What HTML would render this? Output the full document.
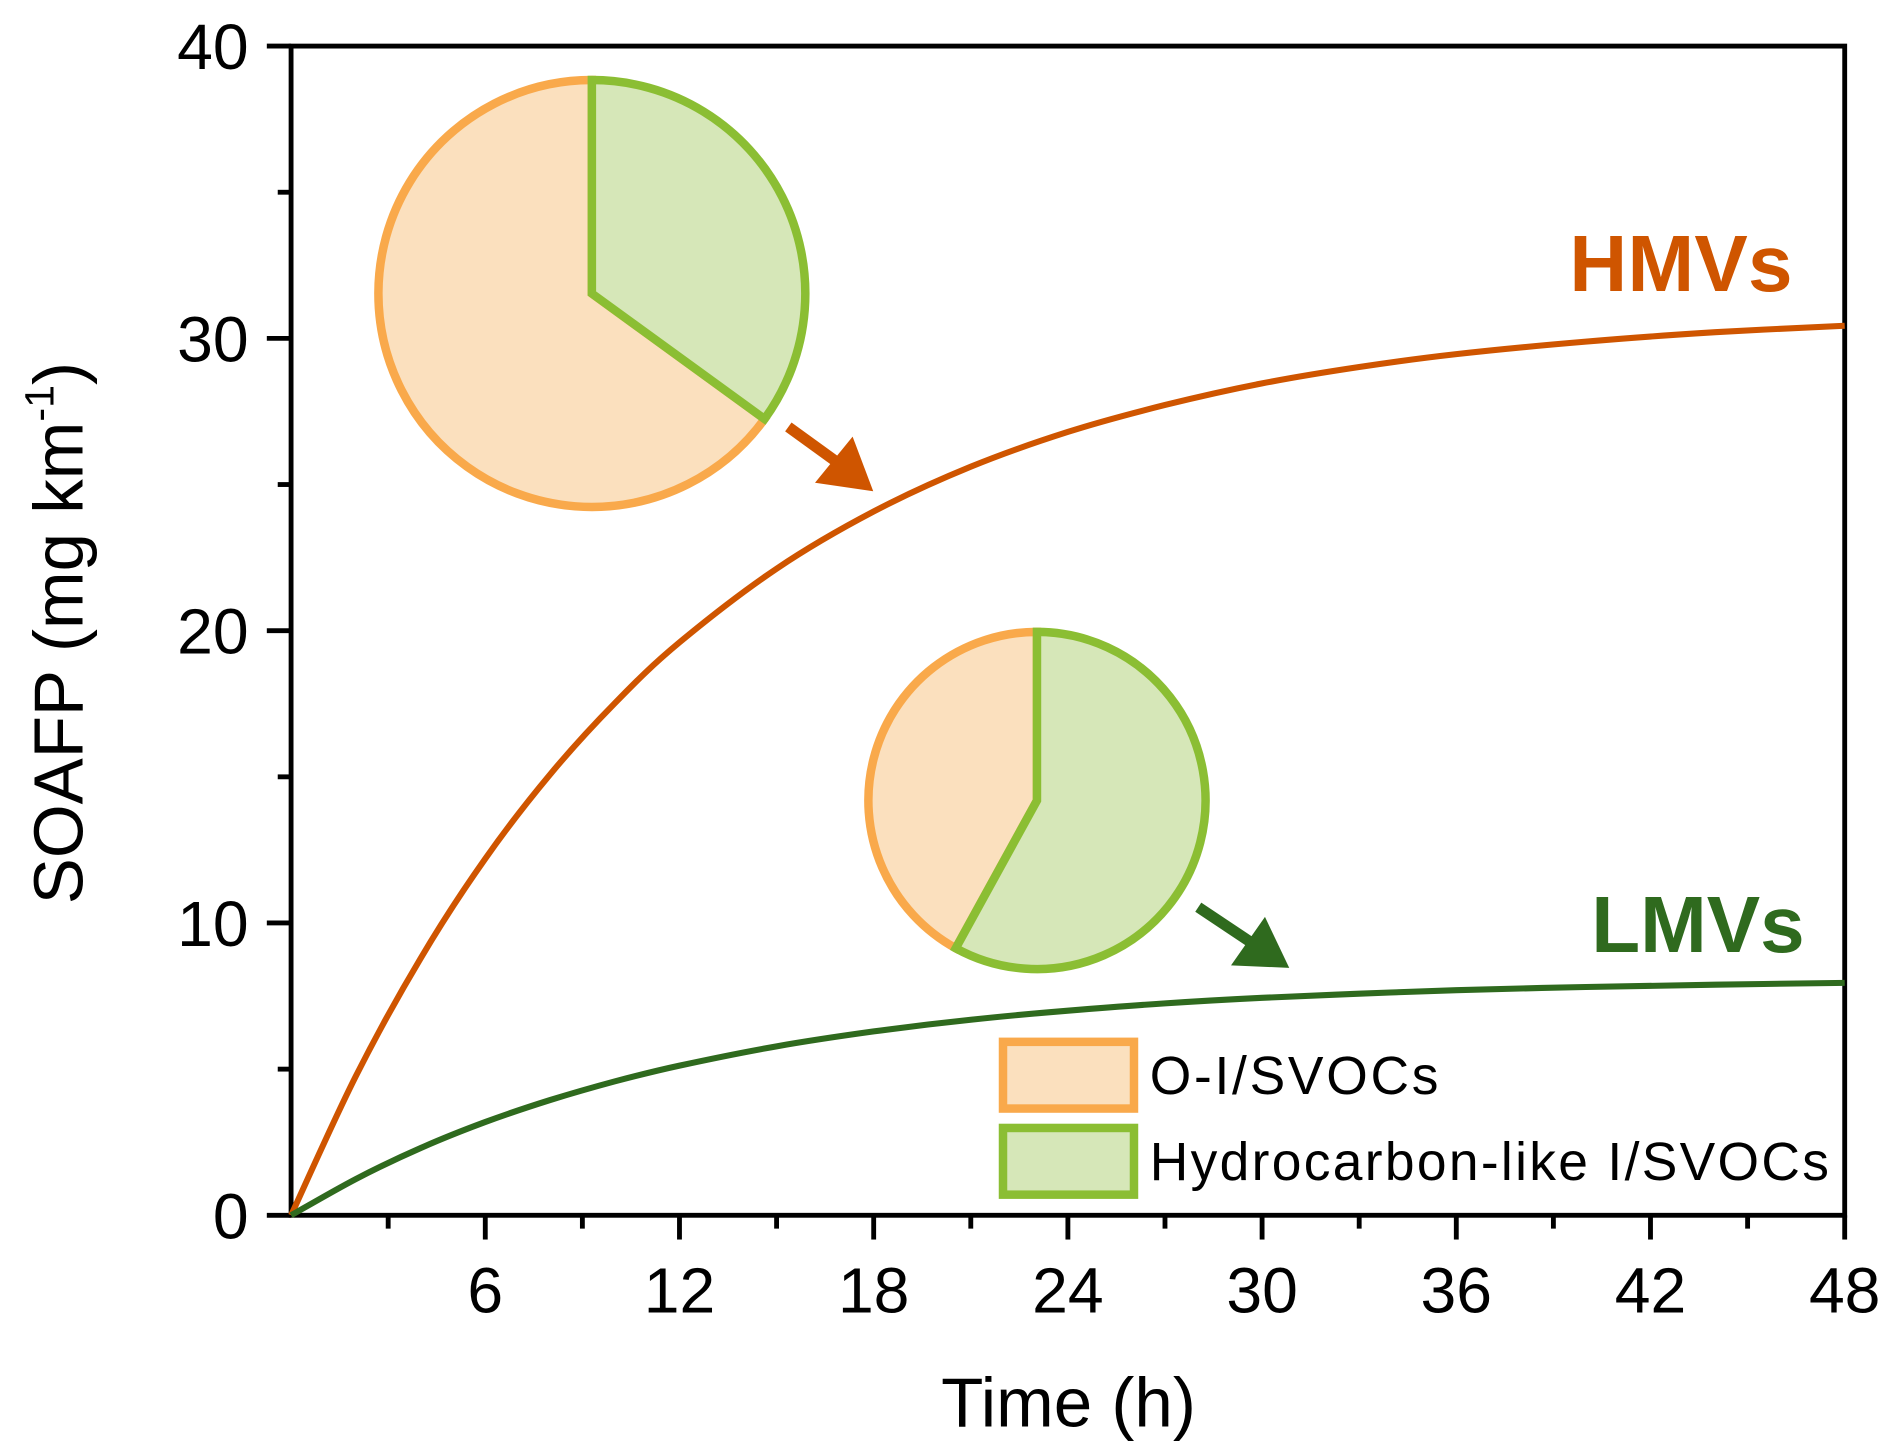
<!DOCTYPE html>
<html><head><meta charset="utf-8"><style>
html,body{margin:0;padding:0;background:#fff;}
svg{display:block;}
text{font-family:"Liberation Sans",Arial,sans-serif;}
</style></head><body>
<svg id="chart" width="1892" height="1453" viewBox="0 0 1560 1198" preserveAspectRatio="none" xmlns="http://www.w3.org/2000/svg">
<g id="axes"></g>
<g id="series"></g>
<g id="pie1"></g>
<g id="pie2"></g>
<g>
<line x1="650" y1="352" x2="690" y2="381" stroke="#CF5500" stroke-width="9"/>
<polygon points="720,405 672,398 703,360" fill="#CF5500"/>
</g>
<g>
<line x1="988" y1="748" x2="1030" y2="776" stroke="#2F6A1E" stroke-width="9"/>
<polygon points="1063,798 1015,796 1043,756" fill="#2F6A1E"/>
</g>
<text x="1294" y="240" font-size="66" font-weight="bold" fill="#CF5500" textLength="184">HMVs</text>
<text x="1312" y="785" font-size="66" font-weight="bold" fill="#2F6A1E" textLength="176">LMVs</text>
<g>
<rect x="827" y="859" width="108" height="55" fill="#FBE0BE" stroke="#F9A94B" stroke-width="7"/>
<text x="948" y="902" font-size="44" textLength="238">O-I/SVOCs</text>
<rect x="827" y="930" width="108" height="55" fill="#D6E7B8" stroke="#8BBE33" stroke-width="7"/>
<text x="948" y="973" font-size="44" textLength="560">Hydrocarbon-like I/SVOCs</text>
</g>
<text x="881" y="1176" font-size="57" text-anchor="middle">Time (h)</text>
<text transform="translate(68,522) rotate(-90)" font-size="57" text-anchor="middle">SOAFP (mg km<tspan font-size="34" dy="-24">-1</tspan><tspan dy="24">)</tspan></text>
</svg>
<script>
const times = [0,2,4,6,8,10,12,15,18,21,24,27,30,33,36,40,44,48];
const hmvValues = [0,4.76,8.79,12.2,15.08,17.52,19.6,22.12,24.08,25.61,26.8,27.72,28.46,29.02,29.46,29.89,30.21,30.43];
const lmvValues = [0,1.24,2.3,3.19,3.94,4.58,5.12,5.78,6.29,6.69,7.0,7.25,7.44,7.58,7.7,7.81,7.89,7.95];
const xTicks = [6,12,18,24,30,36,42,48];
const xMinorTicks = [3,9,15,21,27,33,39,45];
const yTicks = [0,10,20,30,40];
const yMinorTicks = [5,15,25,35];
const pieHmvGreenFraction = [0.35];
const pieLmvGreenFraction = [0.58];

const NS='http://www.w3.org/2000/svg';
const X0=240,X1=1521,Y0=1002,Y1=38;
const xs=v=>X0+(v/48)*(X1-X0);
const ys=v=>Y0-(v/40)*(Y0-Y1);
function mk(tag,attrs,parent){const e=document.createElementNS(NS,tag);for(const k in attrs)e.setAttribute(k,attrs[k]);parent.appendChild(e);return e;}
const axes=document.getElementById('axes');
let frame=mk('rect',{x:X0,y:Y1,width:X1-X0,height:Y0-Y1,fill:'none',stroke:'#000','stroke-width':4},axes);


xTicks.forEach(t=>{
 const l=mk('line',{x1:xs(t),x2:xs(t),y1:Y0,y2:Y0+20,stroke:'#000','stroke-width':4},axes);
 
 
 const tx=mk('text',{x:xs(t),y:1082,'font-size':53,'text-anchor':'middle'},axes);
 tx.textContent=t;
 
 
});
xMinorTicks.forEach(t=>{
 const l=mk('line',{x1:xs(t),x2:xs(t),y1:Y0,y2:Y0+11,stroke:'#000','stroke-width':4},axes);
 
 
});
yTicks.forEach(t=>{
 const l=mk('line',{x1:X0-20,x2:X0,y1:ys(t),y2:ys(t),stroke:'#000','stroke-width':4},axes);
 
 
 const tx=mk('text',{x:205,y:ys(t)+19,'font-size':53,'text-anchor':'end'},axes);
 tx.textContent=t;
 
 
});
yMinorTicks.forEach(t=>{
 const l=mk('line',{x1:X0-11,x2:X0,y1:ys(t),y2:ys(t),stroke:'#000','stroke-width':4},axes);
 
 
});
const series=document.getElementById('series');
function line(vals,color,name){
 const P=times.map((t,i)=>[xs(t),ys(vals[i])]);
 let d='M'+P[0][0].toFixed(1)+','+P[0][1].toFixed(1);
 for(let i=0;i<P.length-1;i++){
  const p0=P[Math.max(0,i-1)],p1=P[i],p2=P[i+1],p3=P[Math.min(P.length-1,i+2)];
  const c1=[p1[0]+(p2[0]-p0[0])/6,p1[1]+(p2[1]-p0[1])/6];
  const c2=[p2[0]-(p3[0]-p1[0])/6,p2[1]-(p3[1]-p1[1])/6];
  d+=` C${c1[0].toFixed(1)},${c1[1].toFixed(1)} ${c2[0].toFixed(1)},${c2[1].toFixed(1)} ${p2[0].toFixed(1)},${p2[1].toFixed(1)}`;
 }
 const p=mk('path',{d:d,fill:'none',stroke:color,'stroke-width':5,'stroke-linejoin':'round'},series);
 
 
}
line(hmvValues,'#CF5500','hmv-line');
line(lmvValues,'#2F6A1E','lmv-line');
function pie(g,cx,cy,r,frac){
 const a=frac*2*Math.PI;
 const ex=cx+r*Math.sin(a),ey=cy-r*Math.cos(a);
 const large=frac>0.5?1:0;
 const o=mk('path',{d:`M${cx},${cy} L${ex},${ey} A${r},${r} 0 ${1-large} 1 ${cx},${cy-r} Z`,fill:'#FBE0BE',stroke:'#F9A94B','stroke-width':7,'stroke-linejoin':'miter'},g);
 
 
 const gr=mk('path',{d:`M${cx},${cy} L${cx},${cy-r} A${r},${r} 0 ${large} 1 ${ex},${ey} Z`,fill:'#D6E7B8',stroke:'#8BBE33','stroke-width':7,'stroke-linejoin':'miter'},g);
 
 
}
pie(document.getElementById('pie1'),488,242,176,pieHmvGreenFraction[0]);
pie(document.getElementById('pie2'),855,660,139,pieLmvGreenFraction[0]);
</script>
</body></html>
